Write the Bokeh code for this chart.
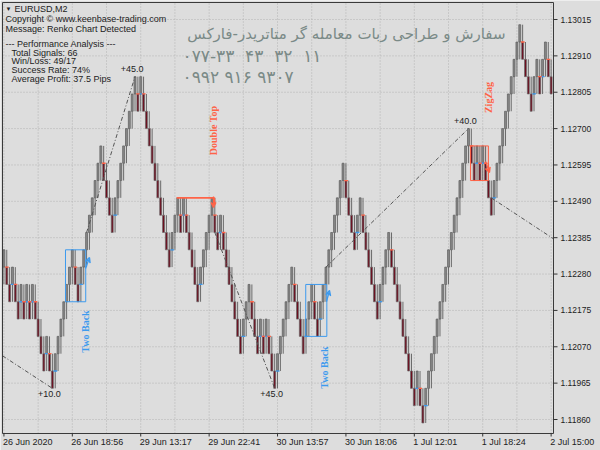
import math
from bokeh.plotting import figure
from bokeh.models import Range1d, Label, Arrow, VeeHead, ColumnDataSource
from bokeh.core.properties import value
from bokeh.embed import file_html
from bokeh.resources import INLINE

# ---------------- data ----------------
brick = 0.0005
close_before = 1.1230
closes = [
    1.1235, 1.1225, 1.1220, 1.1230, 1.1220, 1.1215, 1.1225, 1.1215, 1.1225, 1.1215,
    1.1225, 1.1215, 1.1210, 1.1205, 1.1200, 1.1210, 1.1200, 1.1195, 1.1205, 1.1210,
    1.1215, 1.1220, 1.1225, 1.1230, 1.1235, 1.1225, 1.1220, 1.1230, 1.1235, 1.1240,
    1.1245, 1.1250, 1.1255, 1.1260, 1.1265, 1.1255, 1.1250, 1.1245, 1.1240, 1.1250,
    1.1255, 1.1260, 1.1265, 1.1270, 1.1275, 1.1280, 1.1285, 1.1275, 1.1285, 1.1275,
    1.1270, 1.1265, 1.1260, 1.1255, 1.1250, 1.1245, 1.1240, 1.1235, 1.1230, 1.1240,
    1.1245, 1.1250, 1.1240, 1.1250, 1.1240, 1.1235, 1.1230, 1.1225, 1.1220, 1.1230,
    1.1235, 1.1240, 1.1245, 1.1250, 1.1240, 1.1235, 1.1245, 1.1235, 1.1230, 1.1225,
    1.1220, 1.1215, 1.1210, 1.1205, 1.1215, 1.1220, 1.1225, 1.1215, 1.1210, 1.1205,
    1.1215, 1.1205, 1.1215, 1.1205, 1.1200, 1.1195, 1.1205, 1.1210, 1.1215, 1.1220,
    1.1225, 1.1230, 1.1220, 1.1215, 1.1210, 1.1205, 1.1215, 1.1220, 1.1225, 1.1215,
    1.1210, 1.1220, 1.1225, 1.1230, 1.1235, 1.1240, 1.1245, 1.1250, 1.1255, 1.1260,
    1.1250, 1.1245, 1.1240, 1.1235, 1.1245, 1.1250, 1.1240, 1.1235, 1.1230, 1.1225,
    1.1220, 1.1215, 1.1225, 1.1230, 1.1235, 1.1240, 1.1230, 1.1225, 1.1220, 1.1215,
    1.1210, 1.1205, 1.1200, 1.1195, 1.1190, 1.1200, 1.1190, 1.1185, 1.1195, 1.1200,
    1.1205, 1.1210, 1.1215, 1.1220, 1.1225, 1.1230, 1.1235, 1.1240, 1.1245, 1.1250,
    1.1255, 1.1260, 1.1265, 1.1270, 1.1260, 1.1255, 1.1265, 1.1255, 1.1265, 1.1255,
    1.1250, 1.1245, 1.1255, 1.1260, 1.1265, 1.1270, 1.1275, 1.1280, 1.1285, 1.1290,
    1.1295, 1.1300, 1.1290, 1.1285, 1.1280, 1.1275, 1.1285, 1.1290, 1.1280, 1.1290,
    1.1295, 1.1285, 1.1280,
]

time_labels = ["26 Jun 2020", "26 Jun 18:56", "29 Jun 13:17", "29 Jun 22:41",
               "30 Jun 13:57", "30 Jun 18:06", "1 Jul 12:01", "1 Jul 18:24", "2 Jul 15:00"]
time_label_bars = [0, 24, 48, 72, 96, 120, 144, 168, 192]
price_ticks = [1.11860, 1.11965, 1.12070, 1.12175, 1.12280, 1.12385,
               1.12490, 1.12595, 1.12700, 1.12805, 1.12910, 1.13015]
price_labels = ["%.5f" % v for v in price_ticks]

box_kind = ["Two Back", "Two Back", "ZigZag"]
box_left = [21.6, 105.9, 163.7]
box_right = [28.7, 113.3, 170.0]
box_bottom = [1.1220, 1.1210, 1.1255]
box_top = [1.1235, 1.1225, 1.1265]

double_top_from = 60.6
double_top_to = 73.9
double_top_price = 1.1250

trade_entry_bar = [-0.5, 29, 74, 113, 171]
trade_entry_price = [1.12044, 1.1240, 1.1240, 1.1230, 1.1250]
trade_exit_bar = [17, 46, 95, 163, 192.8]
trade_exit_price = [1.1195, 1.1285, 1.1195, 1.1270, 1.12382]
trade_result = ["+10.0", "+45.0", "+45.0", "+40.0", ""]

header_lines = ["EURUSD,M2", "Copyright \u00a9 www.keenbase-trading.com",
                "Message: Renko Chart Detected"]
perf_title = "---  Performance Analysis  ---"
perf_lines = ["Total Signals: 66", "Win/Loss: 49/17", "Success Rate: 74%",
              "Average Profit: 37.5 Pips"]
fa_lines = ["سفارش و طراحی ربات معامله گر متاتریدر-فارکس",
            "۰۷۷-۳۳\u00a0 ۴۳\u00a0 ۳۲\u00a0 ۱۱",
            "۰۹۹۲ ۹۱۶ ۹۳۰۷"]

# ---------------- layout ----------------
W, H = 600, 450
FL, FR, FT, FB = 2, 553, 2, 433
BAR_PX = 2.85
X0 = -0.5
PPP = 34632.0
YHI = 1.130641

BG = "#dddddd"
TXT = "#222222"
BLUE = "#3d9aee"
TOMATO = "#ff6347"
FONT = "Liberation Sans"


def sx(px):
    return X0 + (px - FL) / BAR_PX


def sy(py):
    return YHI - (py - FT) / PPP


p = figure(width=W, height=H, output_backend="svg", toolbar_location=None,
           x_range=Range1d(sx(0), sx(W)), y_range=Range1d(sy(H), sy(0)),
           x_axis_location=None, y_axis_location=None,
           min_border=0, min_border_left=0, min_border_right=0,
           min_border_top=0, min_border_bottom=0,
           background_fill_color=BG, border_fill_color=BG, outline_line_color=None)
p.grid.visible = False

L, R, T, B = sx(FL), sx(FR), sy(FT), sy(FB)

# ---------------- grid ----------------
gx = list(range(0, 193, 12))
p.segment(x0=gx, x1=gx, y0=[B] * len(gx), y1=[T] * len(gx),
          line_color="#b2b2b2", line_width=1, line_dash="1 2")
p.segment(x0=[L] * len(price_ticks), x1=[R] * len(price_ticks), y0=price_ticks, y1=price_ticks,
          line_color="#b2b2b2", line_width=1, line_dash="1 2")

# ---------------- pattern boxes (fill behind) ----------------
box_src = ColumnDataSource(dict(
    left=box_left, right=box_right, bottom=box_bottom, top=box_top,
    color=[BLUE if k == "Two Back" else TOMATO for k in box_kind],
    falpha=[0.0 if k == "Two Back" else 0.12 for k in box_kind]))
p.quad(left="left", right="right", bottom="bottom", top="top", source=box_src,
       fill_color="color", fill_alpha="falpha", line_color=None)

# ---------------- renko bars ----------------
n = len(closes)
prev = [close_before] + closes[:-1]
is_up = [c > q for c, q in zip(closes, prev)]
idx = list(range(n))
body_bot = [c - brick if u else c for c, u in zip(closes, is_up)]
body_top = [c if u else c + brick for c, u in zip(closes, is_up)]
wick_bot = [c - 2 * brick if u else c + brick for c, u in zip(closes, is_up)]
wick_top = [c - brick if u else c + 2 * brick for c, u in zip(closes, is_up)]

p.segment(x0=idx, x1=idx, y0=wick_bot, y1=wick_top, line_color="#6a6a6a", line_width=1)

up_i = [i for i in idx if is_up[i]]
dn_i = [i for i in idx if not is_up[i]]
HW = 0.34
p.quad(left=[i - HW for i in up_i], right=[i + HW for i in up_i],
       bottom=[body_bot[i] for i in up_i], top=[body_top[i] for i in up_i],
       fill_color="#888888", line_color="#5a5a5a", line_width=0.7)
p.quad(left=[i - HW for i in dn_i], right=[i + HW for i in dn_i],
       bottom=[body_bot[i] for i in dn_i], top=[body_top[i] for i in dn_i],
       fill_color="#6e0b1d", line_color="#686868", line_width=0.7)

rev_up = [i for i in idx if i > 0 and is_up[i] and not is_up[i - 1]]
rev_dn = [i for i in idx if i > 0 and (not is_up[i]) and is_up[i - 1]]
p.segment(x0=[i - 0.6 for i in rev_up], x1=[i + 0.7 for i in rev_up],
          y0=[body_bot[i] for i in rev_up], y1=[body_bot[i] for i in rev_up],
          line_color=BLUE, line_width=1.3)
p.segment(x0=[i - 0.6 for i in rev_dn], x1=[i + 0.7 for i in rev_dn],
          y0=[body_top[i] for i in rev_dn], y1=[body_top[i] for i in rev_dn],
          line_color=TOMATO, line_width=1.3)

# ---------------- pattern outlines ----------------
p.quad(left="left", right="right", bottom="bottom", top="top", source=box_src,
       fill_alpha=0, line_color="color", line_width=1)

p.segment(x0=[double_top_from], x1=[double_top_to], y0=[double_top_price],
          y1=[double_top_price], line_color=TOMATO, line_width=1.8)
p.segment(x0=[double_top_to], x1=[double_top_to], y0=[double_top_price],
          y1=[double_top_price - 6 / PPP], line_color=TOMATO, line_width=1.5)

arrow_defs = [((85, 268), (89, 257), BLUE), ((326, 301), (329, 290), BLUE),
              ((213, 196), (213, 207), TOMATO), ((485, 161), (489, 172), TOMATO)]
for (a, b, col) in arrow_defs:
    p.add_layout(Arrow(x_start=sx(a[0]), y_start=sy(a[1]), x_end=sx(b[0]), y_end=sy(b[1]),
                       line_color=col, line_width=1.3,
                       end=VeeHead(size=5, line_color=col, line_width=1.3, fill_color=None)))

# ---------------- trade lines ----------------
p.segment(x0=trade_entry_bar, x1=trade_exit_bar, y0=trade_entry_price, y1=trade_exit_price,
          line_color="#555555", line_width=1, line_dash="4 2 1 2")
for eb, ep, xb, xp, r in zip(trade_entry_bar, trade_entry_price, trade_exit_bar,
                             trade_exit_price, trade_result):
    if not r:
        continue
    p.add_layout(Label(x=xb, y=xp, text=r, x_offset=-3, y_offset=8 if xp > ep else -6,
                       text_align="center", text_baseline="middle",
                       text_font=FONT, text_font_size="9px", text_color=TXT))

# ---------------- frame + ticks ----------------
p.quad(left=[L], right=[R], bottom=[B], top=[T], fill_alpha=0,
       line_color="#3a3a3a", line_width=1)
p.segment(x0=time_label_bars, x1=time_label_bars, y0=[B] * 9, y1=[sy(FB + 3)] * 9,
          line_color="#333333", line_width=1)
p.segment(x0=[R] * len(price_ticks), x1=[sx(FR + 4)] * len(price_ticks),
          y0=price_ticks, y1=price_ticks, line_color="#333333", line_width=1)

p.text(x=[sx(FR + 7)] * len(price_ticks), y=price_ticks, text=price_labels,
       text_font=value(FONT), text_font_size=value("8.5px"), text_color=TXT,
       text_align="left", text_baseline="middle")
p.text(x=[b - 0.35 for b in time_label_bars], y=[sy(441)] * 9, text=time_labels,
       text_font=value(FONT), text_font_size=value("9px"), text_color=TXT,
       text_align="left", text_baseline="middle")

# ---------------- signal names (vertical) ----------------
sig_texts = [("Two Back", 85, 331, BLUE), ("Double Top", 213, 130, TOMATO),
             ("Two Back", 324, 367, BLUE), ("ZigZag", 488, 97, TOMATO)]
for t, px, py, col in sig_texts:
    p.add_layout(Label(x=sx(px), y=sy(py), text=t, angle=math.pi / 2,
                       text_align="center", text_baseline="middle",
                       text_font="Liberation Serif", text_font_style="bold",
                       text_font_size="10px", text_color=col))

# ---------------- header texts ----------------
p.add_layout(Label(x=sx(5), y=sy(8.5), text="\u25bc", text_font=FONT, text_font_size="6px",
                   text_color=TXT, text_baseline="middle"))
for k, t in enumerate(header_lines):
    p.add_layout(Label(x=sx(14 if k == 0 else 5), y=sy(8.5 + 10 * k), text=t, text_font=FONT,
                       text_font_size="9px", text_color=TXT, text_baseline="middle"))
p.add_layout(Label(x=sx(5), y=sy(43.5), text=perf_title, text_font=FONT,
                   text_font_size="9px", text_color=TXT, text_baseline="middle"))
for k, t in enumerate(perf_lines):
    p.add_layout(Label(x=sx(11), y=sy(52 + 8.8 * k), text=t, text_font=FONT,
                       text_font_size="9px", text_color=TXT, text_baseline="middle"))

FA_COL = "#7a8a87"
p.add_layout(Label(x=sx(505), y=sy(33), text=fa_lines[0], text_font="DejaVu Sans",
                   text_font_size="15px", text_color=FA_COL, text_align="right",
                   text_baseline="middle"))
p.add_layout(Label(x=sx(182), y=sy(55), text=fa_lines[1], text_font="DejaVu Sans",
                   text_font_size="17px", text_color=FA_COL, text_baseline="middle"))
p.add_layout(Label(x=sx(182), y=sy(76), text=fa_lines[2], text_font="DejaVu Sans",
                   text_font_size="17px", text_color=FA_COL, text_baseline="middle"))

open("out.html", "w").write(file_html(p, INLINE))
